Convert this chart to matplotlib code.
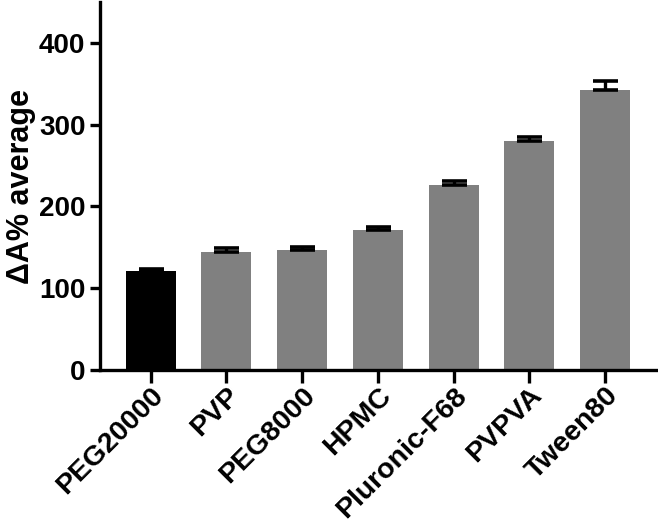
import matplotlib
matplotlib.use("Agg")
import matplotlib.pyplot as plt

categories = ["PEG20000", "PVP", "PEG8000", "HPMC", "Pluronic-F68", "PVPVA", "Tween80"]
values = [121, 144, 147, 171, 226, 280, 343]
errors = [3, 5, 3, 4, 5, 4.5, 11]
colors = ["#000000"] + ["#808080"] * 6
yticks = [0, 100, 200, 300, 400]

plt.rcParams['font.family'] = ['Liberation Sans', 'DejaVu Sans']
plt.rcParams['font.weight'] = 'bold'

fig = plt.figure(figsize=(6.58, 5.22), dpi=100)
ax = fig.add_axes([100/658, 1 - 370/522, 1 - 100/658, 368/522])

x = list(range(len(categories)))
ax.bar(x, values, width=0.66, color=colors, zorder=2)
ax.errorbar(x, values, yerr=[[0]*len(values), errors], fmt='none',
            ecolor='black', elinewidth=2.4, capsize=9, capthick=2.6, zorder=3)

ax.set_xlim(-0.67, 6.7)
ax.set_ylim(0, 450)
ax.set_yticks(yticks)
ax.set_yticklabels([str(t) for t in yticks], fontsize=20, fontweight='bold')
ax.set_xticks(x)
ax.set_xticklabels(categories, rotation=45, ha='right', rotation_mode='anchor',
                   fontsize=20.5, fontweight='bold')
ax.set_ylabel("ΔA% average", fontsize=22, fontweight='bold', labelpad=2)

for s in ['top', 'right']:
    ax.spines[s].set_visible(False)
for s in ['left', 'bottom']:
    ax.spines[s].set_linewidth(2.4)
ax.tick_params(axis='both', width=2.4, length=7.5, pad=3)
ax.tick_params(axis='x', length=9, pad=0)

fig.savefig("out.png", dpi=100)
